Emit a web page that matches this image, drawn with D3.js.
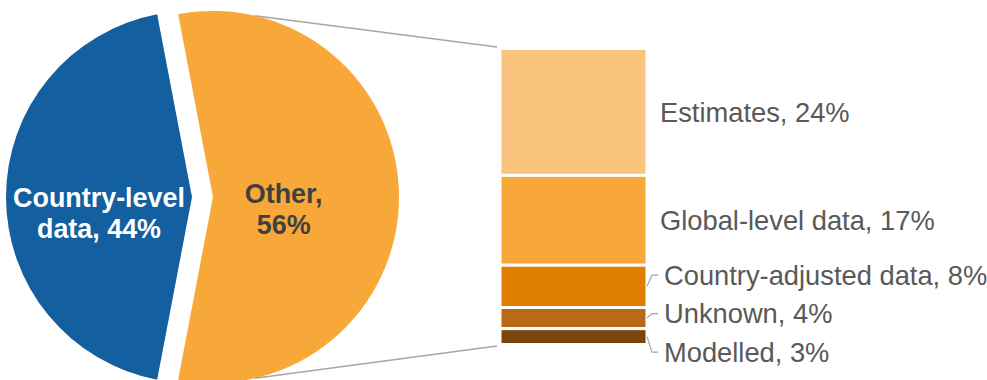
<!DOCTYPE html>
<html>
<head>
<meta charset="utf-8">
<script src="https://cdn.jsdelivr.net/npm/d3@7"></script>
<style>
  html, body { margin: 0; padding: 0; background: #fff; }
  svg { display: block; font-family: "Liberation Sans", Arial, sans-serif; }
</style>
</head>
<body>
<svg id="chart" width="987" height="380"></svg>
<script>
// ---- data ----
const pieCategories = ["Other", "Country-level data"];
const pieValues = [56, 44];
const pieLabelLines = [["Other,", "56%"], ["Country-level", "data, 44%"]];

const barCategories = ["Estimates", "Global-level data", "Country-adjusted data", "Unknown", "Modelled"];
const barValues = [24, 17, 8, 4, 3];

// ---- styles ----
const pieColors = ["#F7A839", "#135FA0"];
const pieTextColors = ["#404040", "#FFFFFF"];
const barColors = ["#F9C47E", "#F7A839", "#E07E00", "#B96A16", "#7C4510"];
const lineColor = "#A6A6A6";
const textColor = "#595959";

const svg = d3.select("#chart");

// ---- pie geometry ----
const cx = 202.5, cy = 197, R = 186, explode = 10.5;
const total = d3.sum(pieValues);
const otherShare = pieValues[0] / total;
const start = Math.PI / 2 - otherShare * Math.PI;
const pie = d3.pie().sort(null).value(d => d).startAngle(start).endAngle(start + 2 * Math.PI);
const arcs = pie(pieValues);
const arc = d3.arc().innerRadius(0).outerRadius(R);

function offset(a) {
  const mid = (a.startAngle + a.endAngle) / 2;
  return [explode * Math.sin(mid), -explode * Math.cos(mid)];
}

// ---- bar geometry ----
const barTotal = d3.sum(barValues);
const barX0 = 500, barX1 = 647;
const gap = 3;
const y = d3.scaleLinear().domain([0, barTotal]).range([50 - gap / 2, 343 + gap / 2]);
const stacks = [];
let acc = 0;
barValues.forEach((v, i) => { stacks.push({ i, v, s: acc, e: acc + v }); acc += v; });

// ---- connector lines (from pie "Other" slice to bar) ----
const oOff = offset(arcs[0]);
const ocx = cx + oOff[0], ocy = cy + oOff[1];
const connAng = 13 * Math.PI / 180;
const topStart = [ocx + R * Math.sin(connAng), ocy - R * Math.cos(connAng)];
const botStart = [ocx + R * Math.sin(connAng), ocy + R * Math.cos(connAng)];
const conn = svg.append("g");
conn.append("line")
  .attr("x1", topStart[0]).attr("y1", topStart[1])
  .attr("x2", barX0 - 3).attr("y2", y(0) - 1.5)
  .attr("stroke", lineColor).attr("stroke-width", 1.3);
conn.append("line")
  .attr("x1", botStart[0]).attr("y1", botStart[1])
  .attr("x2", barX0 - 3).attr("y2", y(barTotal) + 1.5)
  .attr("stroke", lineColor).attr("stroke-width", 1.3);

// ---- pie ----
const pg = svg.append("g");
arcs.forEach((a, i) => {
  const o = offset(a);
  const g = pg.append("g").attr("transform", `translate(${cx + o[0]},${cy + o[1]})`);
  g.append("path").attr("d", arc(a)).attr("fill", pieColors[i]);
});

// pie labels
const labelRadius = [0.38, 0.50];
const labelBase = [6, 10];
arcs.forEach((a, i) => {
  const o = offset(a);
  const mid = (a.startAngle + a.endAngle) / 2;
  const lx = cx + o[0] + R * labelRadius[i] * Math.sin(mid);
  const ly = cy + o[1];
  const t = svg.append("text")
    .attr("x", lx).attr("y", ly + labelBase[i])
    .attr("text-anchor", "middle")
    .attr("font-size", "26.9px").attr("font-weight", "bold")
    .attr("fill", pieTextColors[i]);
  pieLabelLines[i].forEach((ln, k) => {
    t.append("tspan").attr("x", lx).attr("dy", k === 0 ? 0 : 31).text(ln);
  });
});

// ---- bar ----
const bg = svg.append("g");
bg.selectAll("rect").data(stacks).join("rect")
  .attr("x", barX0).attr("width", barX1 - barX0)
  .attr("y", d => y(d.s)).attr("height", d => y(d.e) - y(d.s))
  .attr("fill", d => barColors[d.i])
  .attr("stroke", "#fff").attr("stroke-width", gap);

// ---- bar labels with simple collision resolution ----
const minSep = 38.5;
let labels = stacks.map(d => ({ ...d, mid: (y(d.s) + y(d.e)) / 2 }));
labels.forEach(l => l.pos = l.mid);
let clusters = labels.map(l => ({ items: [l], center: l.mid }));
let changed = true;
while (changed) {
  changed = false;
  for (let k = 0; k < clusters.length - 1; k++) {
    const a = clusters[k], b = clusters[k + 1];
    const aBottom = a.center + (a.items.length - 1) * minSep / 2;
    const bTop = b.center - (b.items.length - 1) * minSep / 2;
    if (bTop - aBottom < minSep) {
      const items = a.items.concat(b.items);
      const center = d3.mean(items, d => d.mid);
      clusters.splice(k, 2, { items, center });
      changed = true;
      break;
    }
  }
}
clusters.forEach(c => {
  c.items.forEach((l, j) => {
    l.pos = c.center + (j - (c.items.length - 1) / 2) * minSep;
    l.moved = c.items.length > 1;
  });
});

const lg = svg.append("g");
labels.forEach(l => {
  if (l.moved) {
    lg.append("polyline")
      .attr("points", [[barX1, l.mid], [barX1 + 5, l.pos], [barX1 + 11, l.pos]].map(p => p.join(",")).join(" "))
      .attr("fill", "none").attr("stroke", lineColor).attr("stroke-width", 1.2);
  }
  lg.append("text")
    .attr("x", barX1 + (l.moved ? 17 : 13))
    .attr("y", l.pos + 9.7)
    .attr("font-size", "27.3px")
    .attr("fill", textColor)
    .text(`${barCategories[l.i]}, ${l.v}%`);
});
</script>
</body>
</html>
